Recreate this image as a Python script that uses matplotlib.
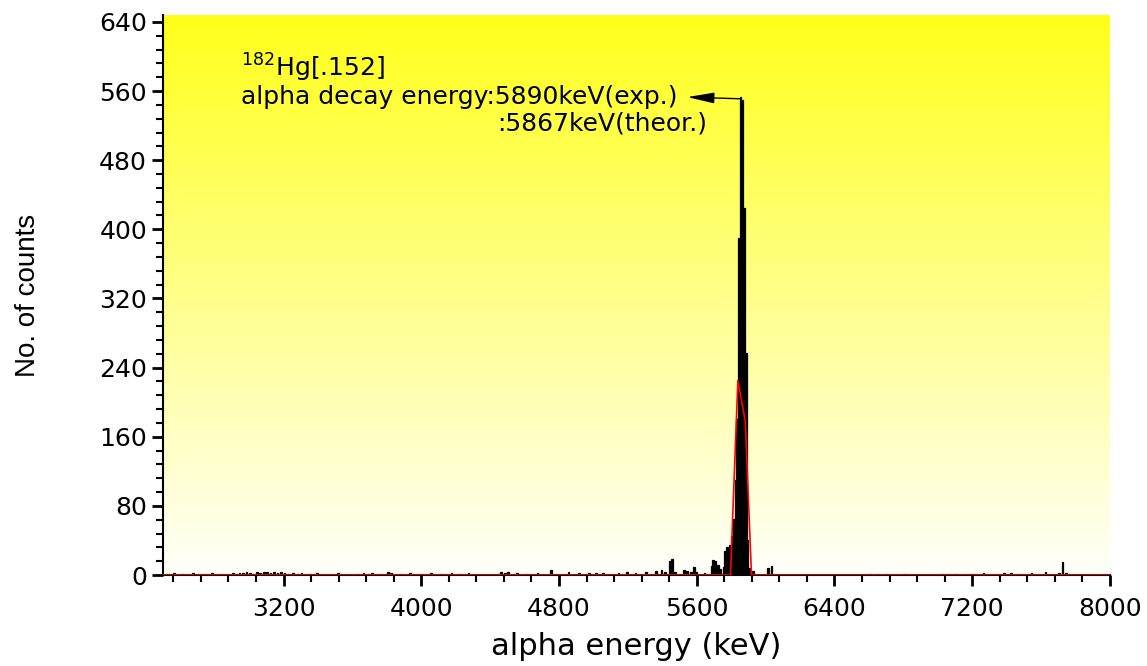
import numpy as np
import matplotlib
matplotlib.use("Agg")
import matplotlib.pyplot as plt
from matplotlib.colors import LinearSegmentedColormap
from matplotlib.ticker import MultipleLocator

# alpha spectrum, 10 keV bins (left edge in keV) and counts
energy = [2520, 2560, 2610, 2670, 2740, 2780, 2830, 2900, 2920, 2940, 2960, 2980,
          3000, 3020, 3040, 3060, 3080, 3100, 3120, 3140, 3160, 3180, 3200, 3220,
          3250, 3280, 3300, 3350, 3390, 3450, 3510, 3630, 3660, 3690, 3710, 3760,
          3800, 3820, 3870, 3930, 3990, 4050, 4110, 4170, 4220, 4270, 4440, 4460,
          4480, 4500, 4550, 4610, 4670, 4750, 4850, 4910, 4970, 5010, 5050, 5140,
          5190, 5240, 5300, 5360, 5390, 5410, 5440, 5450, 5470, 5520, 5540, 5560,
          5580, 5590, 5640, 5680, 5690, 5700, 5720, 5730, 5750, 5760, 5770, 5780,
          5790, 5800, 5810, 5820, 5830, 5840, 5850, 5860, 5870, 5880, 5890, 5900,
          5920, 6010, 6030, 6600, 6650, 6700, 6750, 6800, 7020, 7060, 7100, 7150,
          7200, 7260, 7330, 7380, 7420, 7460, 7540, 7620, 7700, 7720, 7740]
counts = [1, 2, 1, 2, 1, 2, 1, 2, 1, 2, 2, 3,
          2, 1, 3, 2, 4, 3, 2, 4, 2, 3, 2, 1,
          2, 1, 2, 1, 2, 1, 2, 1, 2, 1, 2, 1,
          4, 2, 1, 2, 1, 2, 1, 2, 1, 2, 1, 3,
          2, 3, 2, 1, 2, 6, 4, 2, 2, 2, 2, 2,
          4, 2, 4, 5, 6, 3, 16, 18, 3, 6, 5, 4,
          9, 3, 2, 10, 17, 16, 12, 7, 9, 28, 32, 30,
          35, 45, 65, 110, 180, 390, 553, 550, 425, 257, 40, 8,
          5, 8, 10, 1, 1, 1, 1, 1, 1, 1, 1, 1,
          1, 2, 1, 2, 2, 1, 2, 3, 2, 15, 2]

# fitted curve (coarse polyline)
fit_x = [2500, 5796, 5839, 5882, 5918, 8000]
fit_y = [0, 0, 225, 178, 0, 0]

fig = plt.figure(figsize=(11.47, 6.66), dpi=100)
ax = fig.add_axes([0.1421, 0.1366, 0.8256, 0.8409])

# yellow -> white gradient background
cmap = LinearSegmentedColormap.from_list("yw", ["#fffffb", "#ffff1a"])
grad = np.linspace(0, 1, 256).reshape(-1, 1)
ax.imshow(grad, cmap=cmap, aspect="auto", origin="lower",
          extent=[0, 1, 0, 1], transform=ax.transAxes, zorder=0)

ax.bar(energy, counts, width=10, align="edge", color="black",
       edgecolor="black", linewidth=0.9, zorder=2)
ax.plot(fit_x, fit_y, color="red", lw=1.2, zorder=3)

ax.set_xlim(2500, 8000)
ax.set_ylim(0, 648)
ax.xaxis.set_major_locator(MultipleLocator(800))
ax.xaxis.set_minor_locator(MultipleLocator(160))
ax.yaxis.set_major_locator(MultipleLocator(80))
ax.yaxis.set_minor_locator(MultipleLocator(16))

for s in ["top", "right"]:
    ax.spines[s].set_visible(False)
for s in ["left", "bottom"]:
    ax.spines[s].set_linewidth(1.5)
    ax.spines[s].set_zorder(1)

ax.tick_params(which="major", direction="out", length=8, width=2, labelsize=18)
ax.tick_params(which="minor", direction="out", length=5, width=1.5)
ax.tick_params(axis="x", pad=8)

ax.set_xlabel("alpha energy (keV)", fontsize=22, labelpad=8)
ax.set_ylabel("No. of counts", fontsize=20, labelpad=42, family="Liberation Sans")

ax.text(2951, 587, r"$^{182}$Hg[.152]", fontsize=18, va="center", ha="left", zorder=4)
ax.text(2951, 553, "alpha decay energy:5890keV(exp.)", fontsize=18,
        va="center", ha="left", zorder=4)
ax.text(4439, 523, ":5867keV(theor.)", fontsize=18, va="center", ha="left", zorder=4)
ax.annotate("", xy=(5545, 553), xytext=(5858, 551),
            arrowprops=dict(arrowstyle="-|>,head_length=1.5,head_width=0.3",
                            color="black", lw=1, mutation_scale=11,
                            shrinkA=0, shrinkB=0), zorder=4)

fig.savefig("out.png", dpi=100)
